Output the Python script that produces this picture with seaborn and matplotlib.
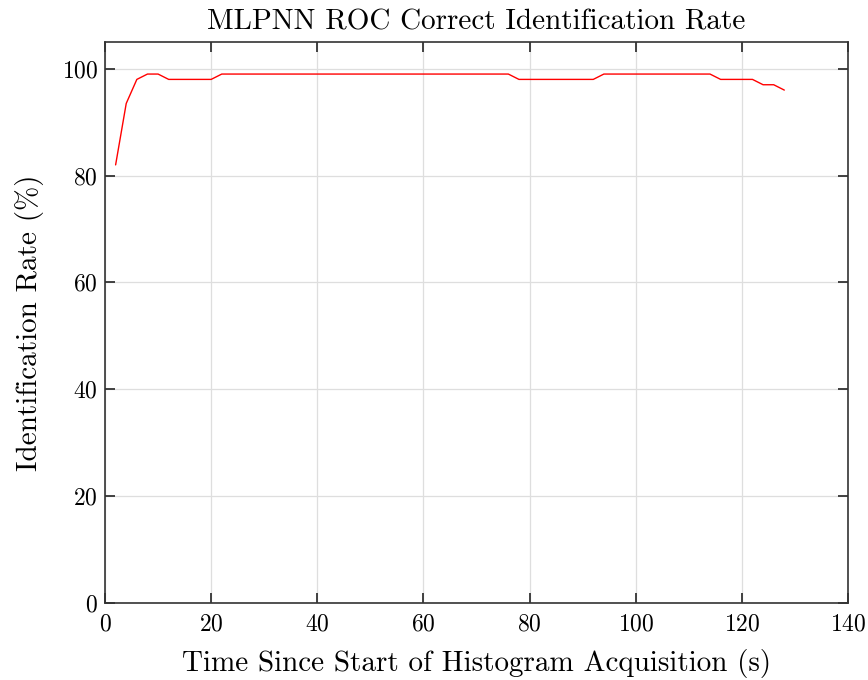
import matplotlib
matplotlib.use("Agg")
import matplotlib.pyplot as plt
import seaborn as sns
import pandas as pd

# Acquisition time (s) and identification rate (%)
time_s = list(range(2, 130, 2))
rate = ([82, 93.5, 98, 99, 99]
        + [98] * 5                 # 12..20
        + [99] * 28                # 22..76
        + [98] * 8                 # 78..92
        + [99] * 11                # 94..114
        + [98] * 4                 # 116..122
        + [97, 97, 96])            # 124..128

df = pd.DataFrame({"time": time_s, "rate": rate})

sns.set_style("ticks")
plt.rcParams["font.family"] = ["cmr10", "DejaVu Serif"]
plt.rcParams["mathtext.fontset"] = "cm"
plt.rcParams["axes.formatter.use_mathtext"] = True
plt.rcParams["text.color"] = "black"
plt.rcParams["axes.labelcolor"] = "black"

fig = plt.figure(figsize=(8.68, 6.8), dpi=100)
ax = fig.add_axes([105 / 868, 1 - 603 / 680, (848 - 105) / 868, (603 - 42) / 680])

sns.lineplot(data=df, x="time", y="rate", color="red", linewidth=1.0, ax=ax)

ax.set_xlim(0, 140)
ax.set_ylim(0, 105)
ax.set_xticks(range(0, 141, 20))
ax.set_yticks(range(0, 101, 20))
ax.grid(True, color="#dedede", linewidth=0.9)
ax.set_axisbelow(True)
ax.tick_params(direction="in", length=7.5, width=1.3, top=True, right=True,
               labelsize=17, colors="#333333", labelcolor="black", pad=5)
ax.tick_params(axis="x", pad=7.5)
for s in ax.spines.values():
    s.set_color("#333333")
    s.set_linewidth(1.2)

ax.set_title("MLPNN ROC Correct Identification Rate", fontsize=21, pad=9, color="black")
ax.set_xlabel("Time Since Start of Histogram Acquisition (s)", fontsize=21, labelpad=9.5)
ax.set_ylabel("Identification Rate (%)", fontsize=21, labelpad=13)

fig.savefig("out.png", dpi=100)
